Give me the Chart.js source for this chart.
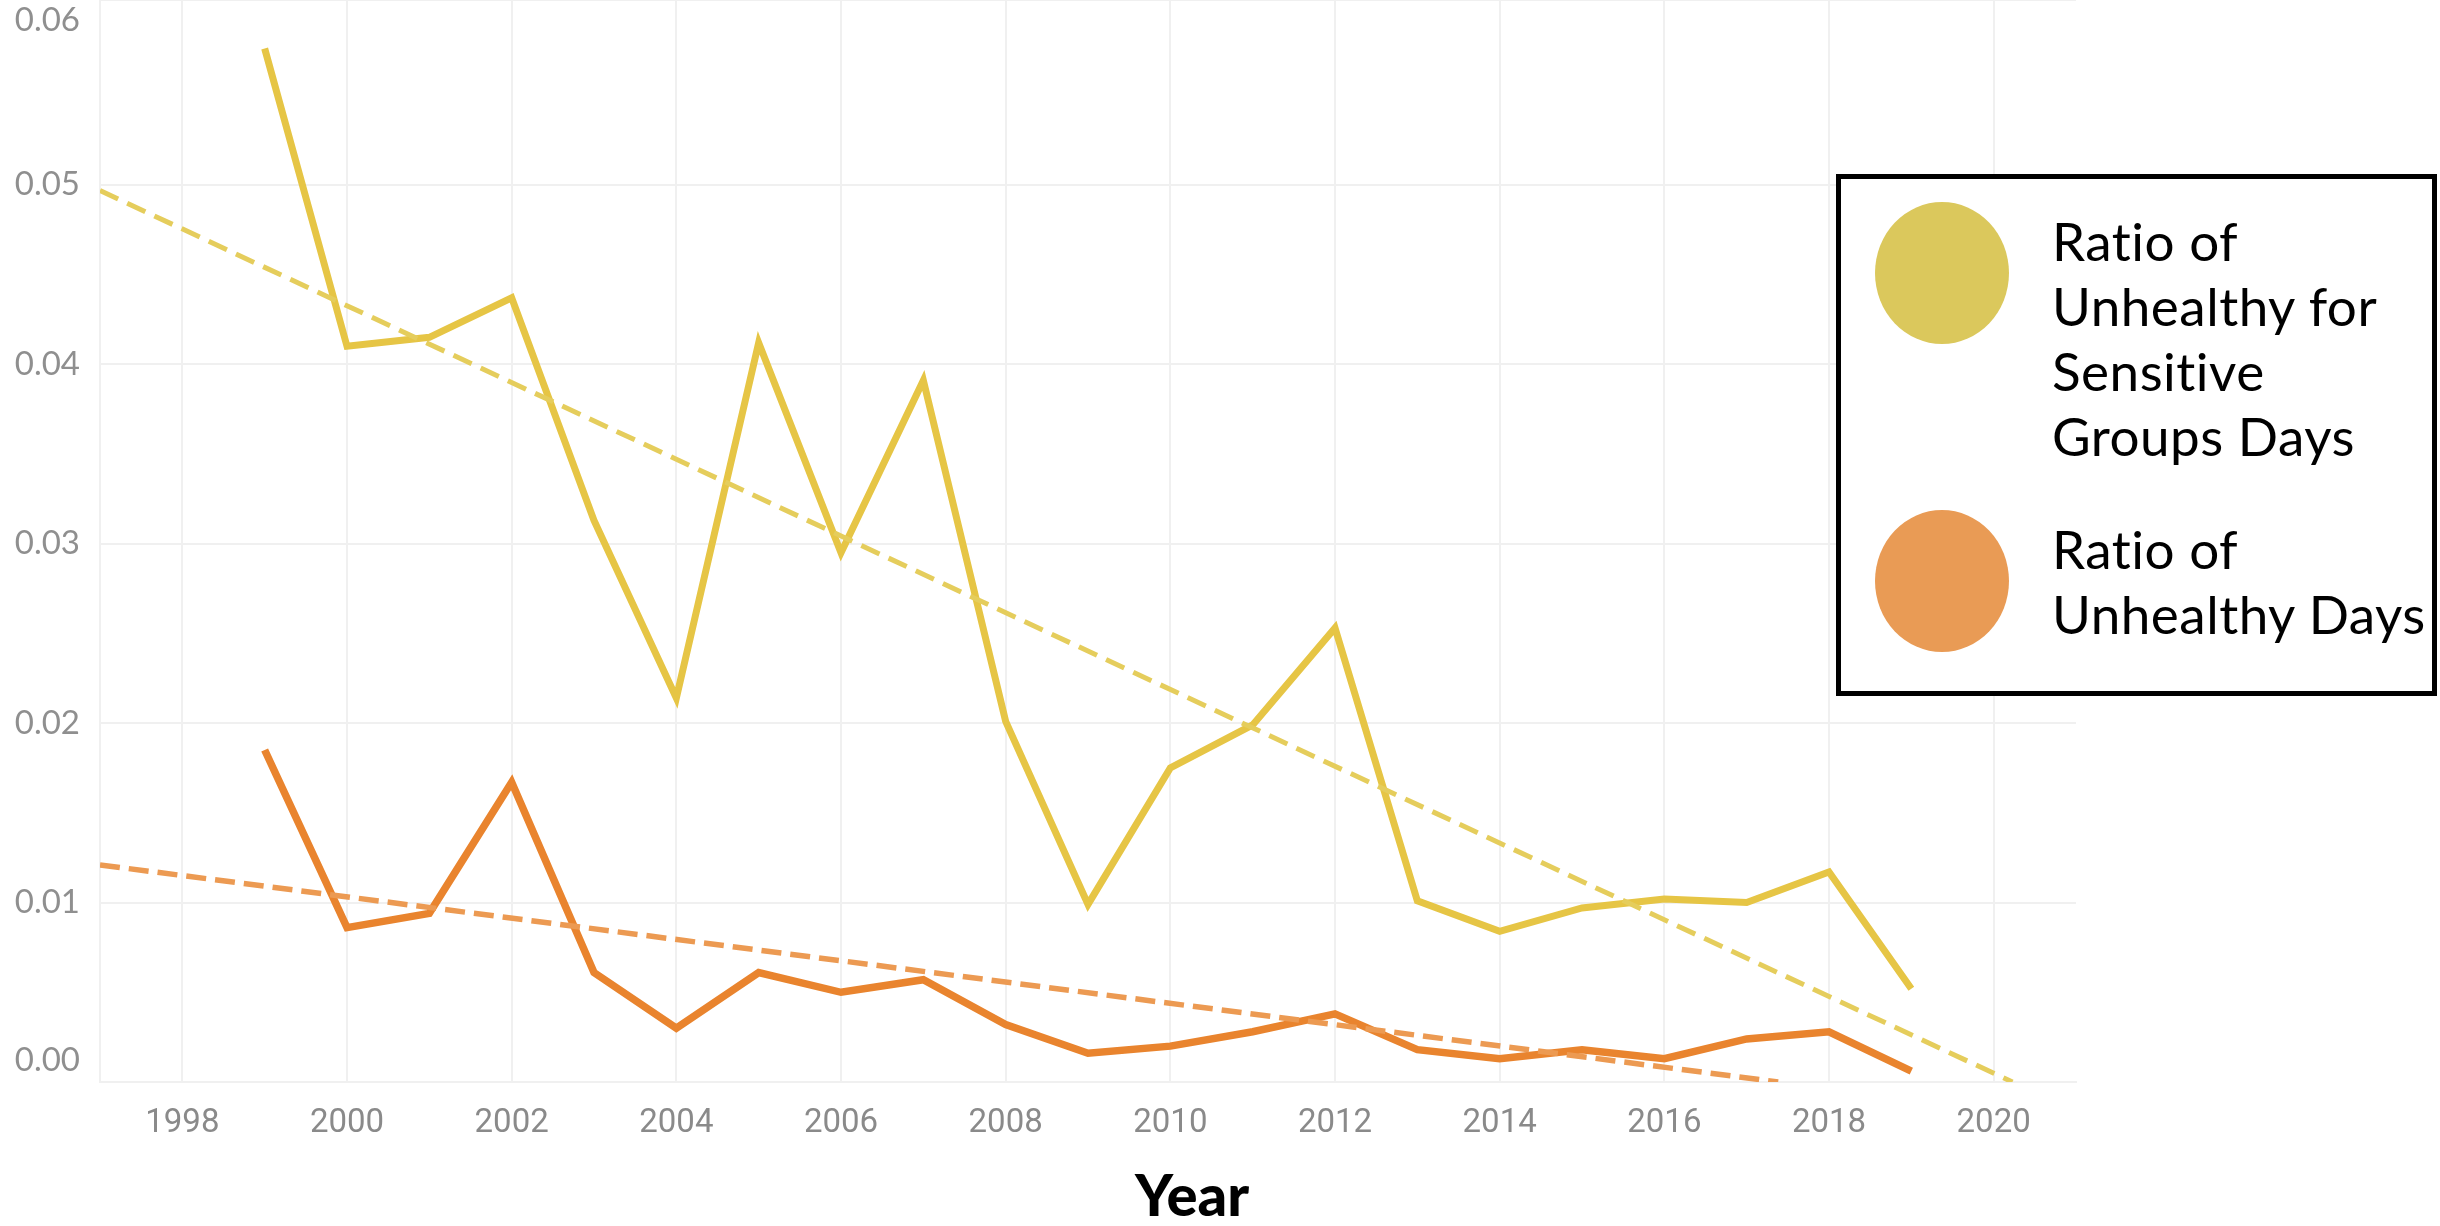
<!DOCTYPE html>
<html>
<head>
<meta charset="utf-8">
<script src="https://cdn.jsdelivr.net/npm/chart.js@4.4.1/dist/chart.umd.min.js"></script>
<style>
  html, body { margin: 0; padding: 0; background: #fff; }
  #wrap { position: relative; width: 2440px; height: 1226px; overflow: hidden; }
  #chart { position: absolute; left: 0; top: 0; }
  #legend {
    position: absolute; left: 1836px; top: 174px;
    width: 591px; height: 512px;
    border: 5px solid #000; background: #fff;
    font-family: Lato, "Open Sans", sans-serif; font-size: 53px; color: #000;
  }
  .dot { position: absolute; left: 34px; width: 134px; height: 142px; border-radius: 50%; }
  .txt { position: absolute; left: 211px; line-height: 65px; white-space: nowrap; letter-spacing: 0.5px; }
  #xtitle {
    position: absolute; top: 1165px; left: 1192px; transform: translateX(-50%);
    font: 900 58px Lato, "Liberation Sans", sans-serif; line-height: 58px; color: #000;
  }
</style>
</head>
<body>
<div id="wrap">
  <canvas id="chart" width="2440" height="1226"></canvas>
  <div id="legend"></div>
  <div id="xtitle">Year</div>
</div>
<script>
// data
const years = [1999, 2000, 2001, 2002, 2003, 2004, 2005, 2006, 2007, 2008, 2009,
               2010, 2011, 2012, 2013, 2014, 2015, 2016, 2017, 2018, 2019];
const sensitiveRatio = [0.0576, 0.0410, 0.0415, 0.0437, 0.0313, 0.0214, 0.0412, 0.0295, 0.0391, 0.0201, 0.0099,
                        0.0175, 0.0199, 0.0253, 0.0101, 0.0084, 0.0097, 0.0102, 0.0100, 0.0117, 0.0052];
const unhealthyRatio = [0.0185, 0.0086, 0.0094, 0.0167, 0.0061, 0.0030, 0.0061, 0.0050, 0.0057, 0.0032, 0.0016,
                        0.0020, 0.0028, 0.0038, 0.0018, 0.0013, 0.0018, 0.0013, 0.0024, 0.0028, 0.0006];
const seriesLabels = ['Ratio of Unhealthy for Sensitive Groups Days', 'Ratio of Unhealthy Days'];
const legendLines = [['Ratio of', 'Unhealthy for', 'Sensitive', 'Groups Days'], ['Ratio of', 'Unhealthy Days']];
const xMin = 1997, xMax = 2021;
const yMin = 0, yMax = 0.0603, yStep = 0.01;

const lineColors = ['#E6C545', '#E9842E'];
const trendColors = ['#E5CD5C', '#EC9A52'];
const legendColors = ['#DBC85C', '#E99B55'];
const gridColor = '#f0f0f0';

// least squares trend, like the Tableau trend line, cut where it reaches zero
function trendLine(xs, ys) {
  const n = xs.length;
  const mx = xs.reduce((a, b) => a + b, 0) / n;
  const my = ys.reduce((a, b) => a + b, 0) / n;
  let sxy = 0, sxx = 0;
  xs.forEach((x, i) => { sxy += (x - mx) * (ys[i] - my); sxx += (x - mx) * (x - mx); });
  const b = sxy / sxx, a = my - b * mx;
  const xEnd = Math.min(xMax, -a / b);
  return [{ x: xMin, y: a + b * xMin }, { x: xEnd, y: Math.max(0, a + b * xEnd) }];
}

const pts = vals => years.map((y, i) => ({ x: y, y: vals[i] }));

// y labels drawn by hand so the end labels stay inside the plot, as in the original
const yLabels = {
  id: 'yLabels',
  afterDraw(chart) {
    const sc = chart.scales.y, area = chart.chartArea, ctx = chart.ctx;
    ctx.save();
    ctx.font = '33px Lato, sans-serif';
    ctx.fillStyle = '#8f8f8f';
    ctx.textAlign = 'right';
    ctx.textBaseline = 'middle';
    sc.ticks.forEach(t => {
      let py = sc.getPixelForValue(t.value);
      py = Math.min(Math.max(py, area.top + 20), area.bottom - 22);
      ctx.fillText(t.value.toFixed(2), area.left - 20, py);
    });
    ctx.restore();
  }
};

new Chart(document.getElementById('chart'), {
  type: 'line',
  data: {
    datasets: [
      { label: 'Trend ' + seriesLabels[0], data: trendLine(years, sensitiveRatio), borderColor: trendColors[0],
        borderWidth: 5, borderDash: [20, 10], order: 0 },
      { label: 'Trend ' + seriesLabels[1], data: trendLine(years, unhealthyRatio), borderColor: trendColors[1],
        borderWidth: 5.5, borderDash: [20, 9], order: 1 },
      { label: seriesLabels[0], data: pts(sensitiveRatio), borderColor: lineColors[0], borderWidth: 7, order: 2 },
      { label: seriesLabels[1], data: pts(unhealthyRatio), borderColor: lineColors[1], borderWidth: 7.5, order: 3 }
    ]
  },
  options: {
    responsive: false,
    animation: false,
    events: [],
    layout: { padding: { top: 0, left: 0, right: 364, bottom: 0 } },
    elements: {
      point: { radius: 0 },
      line: { tension: 0, fill: false, borderJoinStyle: 'miter', borderCapStyle: 'butt' }
    },
    plugins: { legend: { display: false }, tooltip: { enabled: false } },
    scales: {
      x: {
        type: 'linear', min: xMin, max: xMax,
        ticks: {
          stepSize: 1, autoSkip: false, maxRotation: 0, padding: 22,
          color: '#8a8a8a', font: { family: 'Roboto', size: 33 },
          callback: v => (v % 2 === 0 ? String(v) : '')
        },
        grid: {
          drawTicks: false, lineWidth: 2,
          color: c => (c.tick && c.tick.value % 2 === 0 ? gridColor : 'rgba(0,0,0,0)')
        },
        border: { display: true, color: gridColor, width: 2 },
        afterFit: s => { s.height = 144; }
      },
      y: {
        min: yMin, max: yMax,
        ticks: { stepSize: yStep, display: false },
        grid: { drawTicks: false, lineWidth: 2, color: gridColor },
        border: { display: true, color: gridColor, width: 2 },
        afterFit: s => { s.width = 100; }
      }
    }
  },
  plugins: [yLabels]
});

// legend box
const legend = document.getElementById('legend');
const itemTops = [29, 337];
legendLines.forEach((lines, i) => {
  const dot = document.createElement('div');
  dot.className = 'dot';
  dot.style.top = (itemTops[i] - 6) + 'px';
  dot.style.background = legendColors[i];
  legend.appendChild(dot);
  const txt = document.createElement('div');
  txt.className = 'txt';
  txt.style.top = itemTops[i] + 'px';
  txt.title = seriesLabels[i];
  txt.innerHTML = lines.join('<br>');
  legend.appendChild(txt);
});
</script>
</body>
</html>
